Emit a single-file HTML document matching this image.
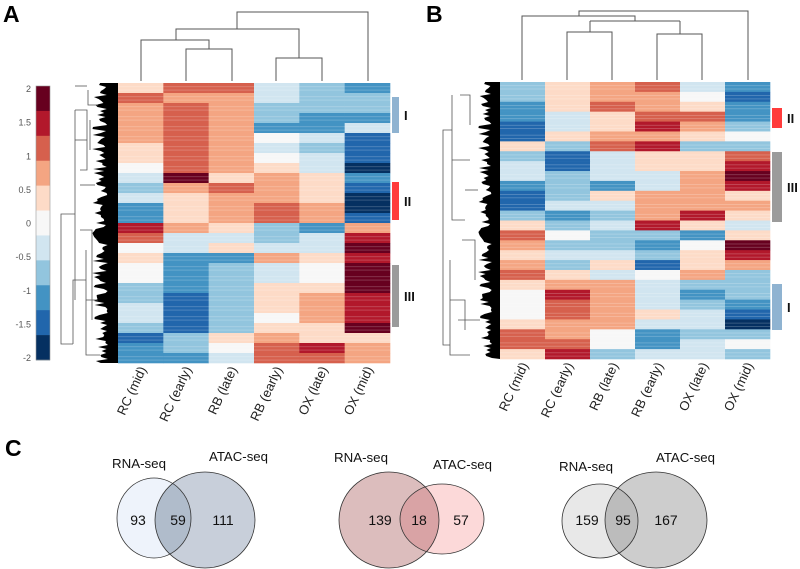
<!DOCTYPE html>
<html><head><meta charset="utf-8">
<style>
html,body{margin:0;padding:0;background:#fff;}
svg{display:block;font-family:"Liberation Sans",sans-serif;}
</style></head>
<body>
<svg id="fig" width="800" height="569" viewBox="0 0 800 569" xmlns="http://www.w3.org/2000/svg">
<text x="3" y="22" font-size="23" font-weight="bold">A</text>
<text x="426" y="22" font-size="23" font-weight="bold">B</text>
<text x="5" y="456" font-size="23" font-weight="bold">C</text>
<g id="colorbar"></g>
<g id="hmA"></g>
<g id="hmB"></g>
<g id="venns"></g>
</svg>
<script>
const NS="http://www.w3.org/2000/svg";
const palette=["#67001f","#b2182b","#d6604d","#f4a582","#fddbc7","#f7f7f7","#d1e5f0","#92c5de","#4393c3","#2166ac","#053061"];
const colorTicks=["2","1.5","1","0.5","0","-0.5","-1","-1.5","-2"];
const colsA=["RC (mid)","RC (early)","RB (late)","RB (early)","OX (late)","OX (mid)"];
const colsB=["RC (mid)","RC (early)","RB (late)","RB (early)","OX (late)","OX (mid)"];
const valuesA=[
[0.5,1.2,1.0,-0.3,-0.8,-1.0],[1.0,0.8,0.9,-0.5,-0.9,-0.6],[0.8,1.0,0.8,-0.6,-0.8,-0.9],[0.7,1.1,0.7,-0.6,-1.0,-1.0],
[0.6,1.0,0.7,-1.0,-1.0,-0.3],[0.8,1.0,0.7,0,-0.5,-1.5],[0.5,1.0,0.8,-0.2,-0.7,-1.5],[0.2,1.2,0.9,0,-0.4,-1.6],
[0.1,1.0,0.8,0.2,-0.2,-2],[-0.5,1.8,0.3,0.6,0.5,-1.0],[-0.8,0.6,1.1,0.7,0.5,-1.5],[-0.5,0.4,0.8,0.6,0.4,-2],
[-1.2,0.2,0.9,1.0,0.6,-1.8],[-1.0,0.5,0.7,1.2,0.9,-1.3],[1.6,0.9,0.3,-0.8,-1.0,0.7],[1.0,-0.3,-0.5,-0.6,-0.5,1.5],
[0,-0.3,0.2,-0.5,-0.5,1.9],[0.3,-1.2,-1.0,0.6,0.4,1.3],[0.1,-1.0,-0.6,-0.3,0,1.9],[-0.1,-1.0,-0.7,-0.3,-0.1,1.9],
[-0.6,-1.2,-0.8,0.4,0.3,1.7],[-0.6,-1.4,-0.6,0.5,0.7,1.4],[-0.2,-1.3,-0.7,0.3,0.6,1.4],[-0.3,-1.3,-0.8,0.1,0.6,1.5],
[-0.6,-1.6,-0.7,0.5,0.5,1.7],[-1.6,-0.7,0.2,0.6,0.5,0.5],[-1.2,-0.9,-0.1,1.0,1.4,0.7],[-1.0,-1.0,-0.3,1.2,1.2,0.8]];
const valuesB=[
[-0.8,0.5,0.8,1.0,-0.2,-1.2],[-0.6,0.3,0.6,0.8,0,-1.6],[-1.2,0.4,1.2,0.6,0.2,-1.0],[-1.0,-0.2,0.2,1.2,1.0,-1.2],
[-1.4,-0.3,0.4,1.3,0.7,-0.6],[-1.6,0.4,0.9,0.8,0.3,0],[0.2,-0.7,1.0,1.3,-0.6,-0.8],[-0.6,-1.3,-0.4,0.5,0.4,1.2],
[-0.4,-1.5,-0.4,0.4,0.5,1.3],[-0.3,-0.9,-0.5,-0.4,0.6,1.7],[-1.0,-0.7,-1.2,-0.3,0.6,1.5],[-1.4,-0.7,0.3,0.9,0.8,0.3],
[-1.5,-0.5,-0.4,0.6,0.9,0.6],[-0.8,-1.0,-0.6,0.9,1.5,0.2],[0.5,-0.8,-0.5,1.3,0.5,-0.5],[1.2,0.1,-0.7,-0.8,-1.0,0.4],
[0.8,-0.6,-0.8,-1.0,0,1.7],[0.3,-0.3,-0.5,-0.7,0.2,1.4],[0.8,-0.8,0.4,-1.5,0.2,0.7],[1.0,0.2,-0.4,0,0.8,-0.6],
[0.2,0.6,0.8,-0.4,-0.8,-0.8],[0.1,1.5,0.7,-0.5,-1.0,-0.8],[0.1,1.0,0.6,-0.3,-0.8,-1.2],[0,1.1,0.7,0.2,-0.4,-1.6],
[0.4,0.6,0.7,-0.3,-0.5,-1.8],[1.1,0.7,0,-1.0,-0.7,-0.6],[1.0,1.0,0,-1.0,-0.5,0],[0.3,1.3,-0.6,-0.5,-0.4,-0.6]];
const vennLeft=[93,139,159];
const vennMid=[59,18,95];
const vennRight=[111,57,167];

function mk(tag,attrs,parent){const e=document.createElementNS(NS,tag);for(const k in attrs)e.setAttribute(k,attrs[k]);parent.appendChild(e);return e;}
function colorOf(v){let i=Math.floor((2-v)/4*11);if(i<0)i=0;if(i>10)i=10;return palette[i];}

// colorbar
const cb=document.getElementById('colorbar');
const cbTop=86,cbBot=360,cbX=36,cbW=14;
palette.forEach((c,i)=>{const h=(cbBot-cbTop)/palette.length;
 const r=mk('rect',{x:cbX,y:cbTop+i*h,width:cbW,height:h+0.3,fill:c},cb);
 
 });
mk('rect',{x:cbX,y:cbTop,width:cbW,height:cbBot-cbTop,fill:'none',stroke:'#999','stroke-width':0.6},cb);
colorTicks.forEach((t,i)=>{const y=89+i*(358-89)/(colorTicks.length-1);
 const tx=mk('text',{x:31,y:y+3,'font-size':9,'text-anchor':'end',fill:'#555'},cb);tx.textContent=t;
 
 });

function heatmap(g,vals,cols,x0,x1,y0,y1,dendro,rowTree,bars){
 const nC=cols.length,nR=vals.length,cw=(x1-x0)/nC,rh=(y1-y0)/nR;
 const xS=i=>x0+i*cw, yS=r=>y0+r*rh;
 vals.forEach((row,r)=>row.forEach((v,c)=>{
  const cell=mk('rect',{x:xS(c),y:yS(r),width:cw+0.3,height:rh+0.3,fill:colorOf(v)},g);
  
  
  // thin stripes for texture
  for(let k=1;k<3;k++){
   const s=mk('rect',{x:xS(c),y:yS(r)+k*rh/3,width:cw,height:0.8,fill:'#fff','fill-opacity':0.25},g);
   
   }
 }));
 cols.forEach((lab,i)=>{const cx=xS(i)+cw/2+6,cy=y1+6;
  const t=mk('text',{x:cx,y:cy,'font-size':13,'text-anchor':'end',fill:'#222',transform:`rotate(-65 ${cx} ${cy})`},g);
  t.textContent=lab;
  
  });
 const dg=mk('g',{stroke:'#555','stroke-width':1,fill:'none'},g);
 
 
 dendro.forEach(p=>mk('polyline',{points:p},dg));
 const rg=mk('g',{},g);
 
 
 // black dense leaves
 let pts=`${x0},${y0} `;let seed=7;
 for(let y=y0;y<=y1;y+=2){seed=(seed*9301+49297)%233280;const w=rowTree.leafMin+(seed/233280)*rowTree.leafVar;pts+=`${x0-w},${y} `;}
 pts+=`${x0},${y1}`;
 mk('polygon',{points:pts,fill:'#000'},rg);
 const lg=mk('g',{stroke:'#555','stroke-width':0.8,fill:'none'},rg);
 rowTree.lines.forEach(p=>mk('polyline',{points:p},lg));
 bars.forEach(b=>{const r=mk('rect',{x:b.x,y:b.y0,width:b.w,height:b.y1-b.y0,fill:b.c},g);
  
  
  const t=mk('text',{x:b.x+b.w+5,y:(b.y0+b.y1)/2+5,'font-size':13,'font-weight':'bold',fill:'#111'},g);t.textContent=b.l;
  
  });
}

heatmap(document.getElementById('hmA'),valuesA,colsA,118,390,83,363,
 ["141,81 141,40 209,40 209,49","186,81 186,49 232,49 232,81","176,40 176,29 299,29 299,58","276,81 276,58 322,58 322,81","237,29 237,12 368,12 368,81"],
 {leafMin:10,leafVar:16,lines:["75,214 61,214 61,344 73,344","75,110 75,300","87,86 75,86","87,140 75,140","75,110 87,110 87,170 80,170","73,344 73,280 86,280","86,250 86,355 100,355","80,230 92,230 92,320","80,185 95,185","90,120 90,150","88,90 88,105 98,105","86,300 98,300"]},
 [{x:392,w:7,y0:97,y1:133,c:'#8fb3d1',l:'I'},{x:392,w:7,y0:182,y1:220,c:'#ff3b3b',l:'II'},{x:392,w:7,y0:265,y1:327,c:'#9b9b9b',l:'III'}]);

heatmap(document.getElementById('hmB'),valuesB,colsB,500,770,82,359,
 ["522,80 522,16 635,16 635,21","590,21 680,21","590,21 590,32 567,32 567,80","590,32 612,32 612,80","680,21 680,34 657,34 657,80","680,34 702,34 702,80","579,16 579,11 748,11 748,80"],
 {leafMin:8,leafVar:14,lines:["452,130 443,130 443,345 450,345","452,95 452,220 465,220","452,160 470,160","450,260 450,355 470,355","450,300 465,300 465,330","460,95 470,95 470,125","465,190 478,190","462,240 475,240 475,280","458,320 480,320"]},
 [{x:772,w:10,y0:108,y1:128,c:'#ff3b3b',l:'II'},{x:772,w:10,y0:152,y1:222,c:'#9b9b9b',l:'III'},{x:772,w:10,y0:284,y1:330,c:'#8fb3d1',l:'I'}]);

// venns
const vg=document.getElementById('venns');
const venns=[
 {L:{cx:154,cy:518,rx:37,ry:40,f:'#eef3fb'},R:{cx:205,cy:520,rx:50,ry:48,f:'#c8cfda'},o:'#b0bccb',nl:[138,178,223],lab:[[112,468],[209,461]]},
 {L:{cx:389,cy:520,rx:50,ry:48,f:'#dcbdbd'},R:{cx:442,cy:519,rx:42,ry:35,f:'#fcd9d9'},o:'#d9a3a5',nl:[380,419,461],lab:[[334,462],[433,469]]},
 {L:{cx:600,cy:521,rx:38,ry:37,f:'#e8e8e8'},R:{cx:656,cy:520,rx:51,ry:48,f:'#cdcdcd'},o:'#bcbcbc',nl:[587,623,666],lab:[[559,471],[656,462]]}];
venns.forEach((v,i)=>{
 const g=mk('g',{},vg);
 
 
 const cp=mk('clipPath',{id:'cp'+i},g);mk('ellipse',{cx:v.L.cx,cy:v.L.cy,rx:v.L.rx,ry:v.L.ry},cp);
 const e1=mk('ellipse',{cx:v.L.cx,cy:v.L.cy,rx:v.L.rx,ry:v.L.ry,fill:v.L.f},g);
 
 
 const e2=mk('ellipse',{cx:v.R.cx,cy:v.R.cy,rx:v.R.rx,ry:v.R.ry,fill:v.R.f},g);
 
 
 mk('ellipse',{cx:v.R.cx,cy:v.R.cy,rx:v.R.rx,ry:v.R.ry,fill:v.o,'clip-path':`url(#cp${i})`},g);
 mk('ellipse',{cx:v.L.cx,cy:v.L.cy,rx:v.L.rx,ry:v.L.ry,fill:'none',stroke:'#333','stroke-width':0.8},g);
 mk('ellipse',{cx:v.R.cx,cy:v.R.cy,rx:v.R.rx,ry:v.R.ry,fill:'none',stroke:'#333','stroke-width':0.8},g);
 [vennLeft[i],vennMid[i],vennRight[i]].forEach((n,k)=>{
  const t=mk('text',{x:v.nl[k],y:525,'font-size':14,'text-anchor':'middle',fill:'#111'},g);t.textContent=n;
  
  });
 ['RNA-seq','ATAC-seq'].forEach((s,k)=>{
  const t=mk('text',{x:v.lab[k][0],y:v.lab[k][1],'font-size':13,fill:'#111',textLength:k?59:54,lengthAdjust:'spacingAndGlyphs'},g);t.textContent=s;
  
  });
});
</script>
</body></html>
